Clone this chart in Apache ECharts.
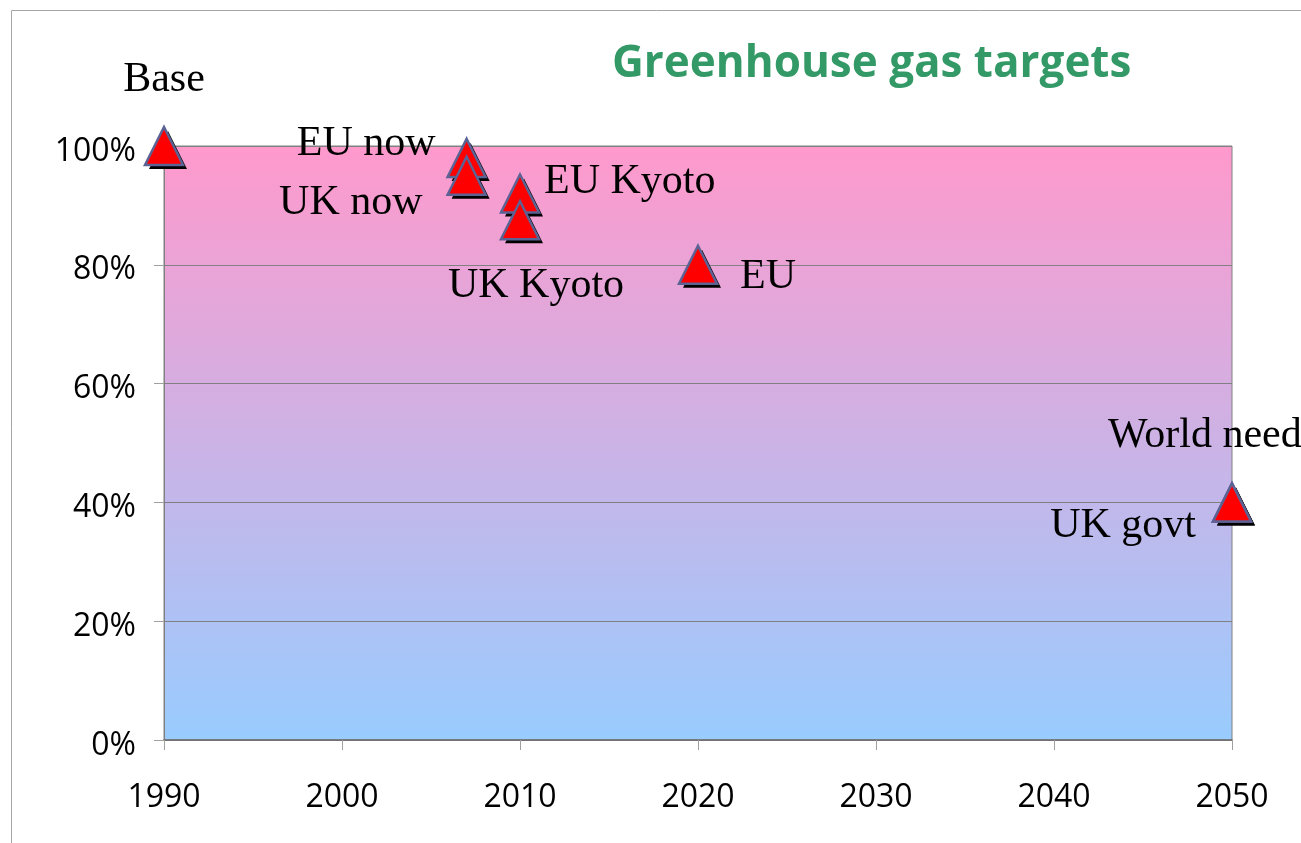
<!DOCTYPE html>
<html>
<head>
<meta charset="utf-8">
<script src="https://cdn.jsdelivr.net/npm/echarts@6/dist/echarts.min.js"></script>
<style>
  html, body { margin: 0; padding: 0; background: #fff; }
  #chart { width: 1301px; height: 843px; }
</style>
</head>
<body>
<div id="chart"></div>
<script>
// data
const names = ['Base', 'EU now', 'UK now', 'EU Kyoto', 'UK Kyoto', 'EU', 'World need', 'UK govt']
const years = [1990, 2007, 2007, 2010, 2010, 2020, 2050, 2050]
const levels = [1.0, 0.98, 0.95, 0.92, 0.875, 0.8, 0.4, 0.4]
const xTicks = [1990, 2000, 2010, 2020, 2030, 2040, 2050]
const yTicks = [0, 0.2, 0.4, 0.6, 0.8, 1.0]

// where each label sits around its marker (align, [dx, dy])
const labelPlace = {
  'Base': ['center', [0, -66]],
  'EU now': ['right', [-31, -14]],
  'UK now': ['right', [-44, 27]],
  'EU Kyoto': ['left', [24, -12]],
  'UK Kyoto': ['center', [16, 66]],
  'EU': ['left', [42, 12]],
  'World need': ['left', [-124, -66]],
  'UK govt': ['right', [-36, 24]],
}

const chart = echarts.init(document.getElementById('chart'))

const points = names.map((n, i) => [years[i], levels[i], n])

const mainData = points.map((p) => {
  const place = labelPlace[p[2]]
  return {
    value: p,
    label: {
      show: true,
      position: 'inside',
      align: place[0],
      verticalAlign: 'middle',
      offset: place[1],
      formatter: p[2],
    },
  }
})

const options = {
  animation: false,
  title: {
    text: 'Greenhouse gas targets',
    left: 612,
    top: 42,
    padding: 0,
    textStyle: {
      fontFamily: 'Open Sans',
      fontWeight: 'bold',
      fontSize: 44,
      color: '#339966',
    },
  },
  graphic: [
    {
      type: 'rect',
      shape: { x: 11.5, y: 10.5, width: 1400, height: 900 },
      style: { fill: 'none', stroke: '#a6a6a6', lineWidth: 1 },
      silent: true,
      z: -10,
    },
  ],
  grid: {
    left: 164,
    right: 69,
    top: 146,
    bottom: 103,
    show: true,
    borderColor: '#808080',
    borderWidth: 1,
    backgroundColor: new echarts.graphic.LinearGradient(0, 0, 0, 1, [
      { offset: 0, color: '#ff99cc' },
      { offset: 1, color: '#99ccff' },
    ]),
  },
  xAxis: {
    type: 'value',
    min: xTicks[0],
    max: xTicks[xTicks.length - 1],
    interval: 10,
    axisLine: { show: true, lineStyle: { color: '#6e6e6e', width: 1.5 } },
    axisTick: { show: true, length: 10, lineStyle: { color: '#a0a0a0' } },
    splitLine: { show: false },
    axisLabel: {
      margin: 42,
      color: '#000',
      fontFamily: 'Open Sans',
      fontSize: 32,
      formatter: (v) => String(v),
    },
  },
  yAxis: {
    type: 'value',
    min: yTicks[0],
    max: yTicks[yTicks.length - 1],
    interval: 0.2,
    axisLine: { show: true, lineStyle: { color: '#808080' } },
    axisTick: { show: true, length: 10, lineStyle: { color: '#a0a0a0' } },
    splitLine: { show: true, lineStyle: { color: '#808080', width: 1 } },
    axisLabel: {
      margin: 28,
      color: '#000',
      fontFamily: 'Open Sans',
      fontSize: 32,
      formatter: (v) => '{p|' + Math.round(v * 100) + '%}',
      rich: {
        p: {
          color: '#000',
          fontFamily: 'Open Sans',
          fontSize: 32,
          padding: [11, 0, 0, 0],
        },
      },
    },
  },
  series: [
    {
      // For shadow
      type: 'scatter',
      symbol: 'triangle',
      symbolSize: 38,
      symbolOffset: [4, 4],
      silent: true,
      itemStyle: { color: '#000', opacity: 1 },
      data: points,
      z: 2,
    },
    {
      type: 'scatter',
      symbol: 'triangle',
      symbolSize: 38,
      itemStyle: {
        color: '#ff0000',
        borderColor: '#5c6294',
        borderWidth: 2.5,
        opacity: 1,
      },
      label: {
        color: '#000',
        fontFamily: 'Liberation Serif',
        fontSize: 42,
        lineHeight: 42,
      },
      data: mainData,
      z: 3,
    },
  ],
}

chart.setOption(options)
</script>
</body>
</html>
